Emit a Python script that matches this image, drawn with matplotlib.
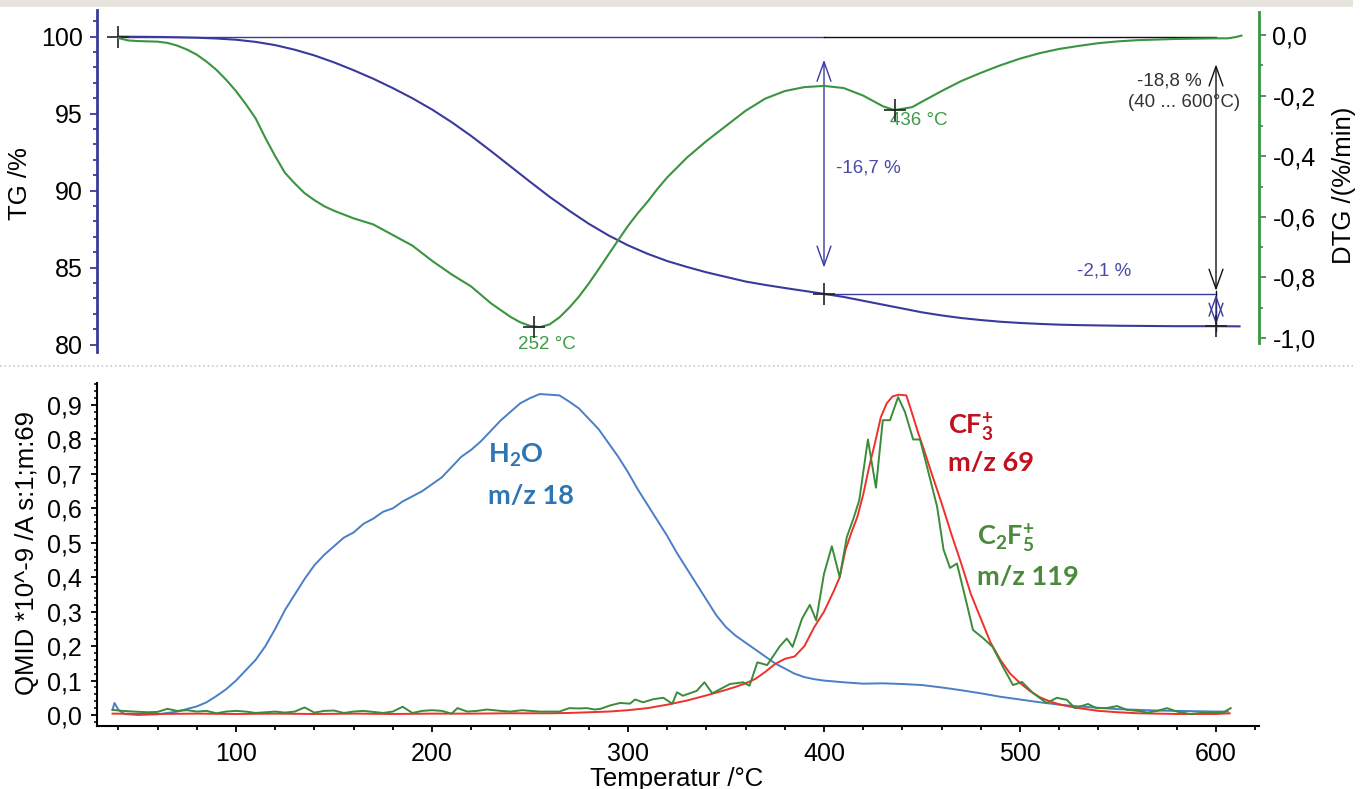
import numpy as np
import matplotlib
matplotlib.use("Agg")
import matplotlib.pyplot as plt
from matplotlib.ticker import MultipleLocator, FuncFormatter
from matplotlib.patches import Rectangle
from matplotlib.lines import Line2D

plt.rcParams['font.family'] = ['Liberation Sans', 'DejaVu Sans']
plt.rcParams['mathtext.fontset'] = 'custom'
plt.rcParams['mathtext.rm'] = 'Lato'
plt.rcParams['mathtext.bf'] = 'Lato:bold'
plt.rcParams['mathtext.it'] = 'Lato:italic'

# ---- TG / DTG (upper panel) ----
tg_temp = [40, 50, 60, 70, 80, 90, 100, 110, 120, 130, 140, 150, 160, 170, 180, 190,
           200, 210, 220, 230, 240, 250, 260, 270, 280, 290, 300, 310, 320, 330, 340,
           350, 360, 370, 380, 390, 400, 410, 420, 430, 440, 450, 460, 470, 480, 490,
           500, 510, 520, 530, 540, 550, 560, 570, 580, 590, 600, 612]
tg_val = [100.0, 99.99, 99.98, 99.96, 99.93, 99.88, 99.8, 99.66, 99.45, 99.15, 98.78,
          98.33, 97.82, 97.27, 96.66, 96.0, 95.27, 94.45, 93.55, 92.58, 91.58, 90.58, 89.6,
          88.7, 87.85, 87.1, 86.45, 85.9, 85.43, 85.05, 84.7, 84.4, 84.1, 83.88, 83.68,
          83.49, 83.3, 83.1, 82.85, 82.6, 82.35, 82.1, 81.9, 81.73, 81.6, 81.49, 81.41,
          81.35, 81.3, 81.27, 81.25, 81.23, 81.22, 81.21, 81.2, 81.2, 81.2, 81.19]

dtg_temp = [40, 45, 50, 60, 65, 70, 75, 80, 85, 90, 95, 100, 105, 110, 115, 120, 125,
            130, 135, 140, 145, 150, 160, 170, 180, 190, 200, 210, 220, 230, 240, 245,
            250, 255, 260, 265, 270, 275, 280, 285, 290, 295, 300, 305, 310, 315, 320,
            330, 340, 350, 360, 370, 380, 390, 400, 410, 420, 430, 436, 445, 450, 460,
            470, 480, 490, 500, 510, 520, 530, 540, 550, 560, 570, 580, 590, 600, 606,
            610, 613]
dtg_val = [-0.01, -0.018, -0.02, -0.022, -0.026, -0.035, -0.048, -0.065, -0.088, -0.115,
           -0.148, -0.185, -0.228, -0.275, -0.34, -0.40, -0.455, -0.49, -0.522, -0.545,
           -0.565, -0.58, -0.605, -0.625, -0.66, -0.695, -0.745, -0.79, -0.83, -0.885,
           -0.93, -0.948, -0.96, -0.964, -0.955, -0.932, -0.90, -0.863, -0.82, -0.773,
           -0.725, -0.677, -0.63, -0.588, -0.55, -0.508, -0.47, -0.405, -0.35, -0.30,
           -0.25, -0.21, -0.185, -0.172, -0.168, -0.175, -0.20, -0.235, -0.248, -0.238,
           -0.22, -0.185, -0.152, -0.125, -0.10, -0.078, -0.06, -0.046, -0.036, -0.027,
           -0.021, -0.017, -0.015, -0.013, -0.012, -0.011, -0.011, -0.007, -0.002]

step_temp = [40, 400, 600]
step_tg = [100.0, 83.3, 81.2]
peak_temp = [252, 436]
peak_dtg = [-0.963, -0.248]

# ---- QMID ion currents (lower panel) ----
h2o_temp = [37, 38, 40, 43, 50, 60, 70, 80, 85, 90, 95, 100, 105, 110, 115, 120, 125,
            130, 135, 140, 145, 150, 155, 160, 165, 170, 175, 180, 185, 190, 195, 200,
            205, 210, 215, 220, 225, 230, 235, 240, 245, 250, 255, 260, 265, 270, 275,
            280, 285, 290, 295, 300, 305, 310, 315, 320, 325, 330, 335, 340, 345, 350,
            355, 360, 365, 370, 375, 380, 385, 390, 395, 400, 410, 420, 430, 440, 450,
            460, 470, 480, 490, 500, 510, 520, 530, 540, 550, 560, 570, 580, 590, 600, 606]
h2o_val = [0.015, 0.035, 0.015, 0.003, 0.0, 0.002, 0.01, 0.025, 0.037, 0.055, 0.075,
           0.10, 0.13, 0.16, 0.20, 0.25, 0.305, 0.35, 0.395, 0.435, 0.465, 0.49, 0.515,
           0.53, 0.555, 0.57, 0.59, 0.60, 0.62, 0.635, 0.65, 0.67, 0.69, 0.72, 0.75,
           0.77, 0.795, 0.825, 0.855, 0.88, 0.905, 0.92, 0.932, 0.93, 0.928, 0.91, 0.89,
           0.86, 0.83, 0.79, 0.75, 0.705, 0.655, 0.61, 0.565, 0.52, 0.47, 0.425, 0.38,
           0.335, 0.29, 0.255, 0.23, 0.21, 0.19, 0.17, 0.15, 0.135, 0.12, 0.11, 0.104,
           0.10, 0.095, 0.091, 0.092, 0.09, 0.087, 0.08, 0.072, 0.063, 0.053, 0.045,
           0.037, 0.03, 0.025, 0.021, 0.017, 0.015, 0.013, 0.012, 0.011, 0.01, 0.01]

cf3_temp = [37, 60, 80, 100, 120, 140, 160, 180, 200, 220, 240, 260, 270, 280, 290,
            300, 310, 320, 330, 340, 345, 350, 355, 360, 365, 370, 375, 380, 385, 390,
            395, 400, 405, 408, 411, 414, 417, 420, 423, 426, 429, 432, 435, 438, 442,
            445, 448, 451, 455, 460, 465, 470, 475, 480, 485, 490, 495, 500, 505, 510,
            515, 520, 525, 530, 540, 550, 560, 570, 580, 590, 600, 607]
cf3_val = [0.004, 0.003, 0.004, 0.003, 0.004, 0.003, 0.004, 0.003, 0.004, 0.004, 0.005,
           0.005, 0.006, 0.008, 0.01, 0.014, 0.02, 0.03, 0.042, 0.057, 0.065, 0.073,
           0.082, 0.092, 0.105, 0.125, 0.148, 0.163, 0.17, 0.20, 0.255, 0.30, 0.36,
           0.40, 0.48, 0.53, 0.575, 0.64, 0.72, 0.79, 0.865, 0.905, 0.925, 0.93, 0.928,
           0.875, 0.82, 0.77, 0.70, 0.615, 0.525, 0.44, 0.35, 0.28, 0.21, 0.16, 0.12,
           0.093, 0.07, 0.052, 0.04, 0.031, 0.025, 0.02, 0.012, 0.008, 0.005, 0.004,
           0.003, 0.003, 0.003, 0.005]

c2f5_temp = [37, 42, 48, 55, 60, 65, 70, 75, 80, 85, 90, 95, 100, 105, 110, 115, 120,
             125, 130, 135, 140, 145, 150, 155, 160, 165, 170, 175, 180, 185, 190, 195,
             200, 205, 210, 213, 218, 223, 228, 235, 240, 246, 250, 255, 260, 265, 270,
             275, 279, 283, 286, 291, 296, 301, 303.6, 307.7, 313, 318, 322.6, 325, 328,
             335, 339, 343, 348, 352, 358.8, 362, 366, 371, 377.5, 381, 384, 388.8,
             392.8, 396, 400, 404, 408, 411.6, 415, 418, 422.4, 426.5, 430, 433.7,
             437.8, 441.3, 445.5, 449, 452.6, 457.7, 461, 464.3, 467.8, 472, 476, 481,
             486, 491.3, 496.4, 501, 506.6, 513.6, 518.8, 523.9, 528, 534.7, 539, 544,
             549.5, 554.6, 560, 565, 570, 575, 580, 586.7, 592, 598.5, 604, 607.5]
c2f5_val = [0.015, 0.012, 0.01, 0.008, 0.009, 0.018, 0.012, 0.014, 0.01, 0.012, 0.005,
            0.01, 0.012, 0.01, 0.006, 0.008, 0.01, 0.007, 0.01, 0.022, 0.007, 0.012,
            0.013, 0.006, 0.01, 0.012, 0.009, 0.006, 0.01, 0.024, 0.006, 0.012, 0.014,
            0.012, 0.004, 0.02, 0.01, 0.012, 0.016, 0.012, 0.01, 0.014, 0.012, 0.01,
            0.01, 0.01, 0.02, 0.019, 0.02, 0.016, 0.018, 0.028, 0.035, 0.033, 0.045,
            0.037, 0.046, 0.05, 0.033, 0.066, 0.056, 0.07, 0.095, 0.063, 0.078, 0.09,
            0.095, 0.085, 0.153, 0.145, 0.20, 0.222, 0.198, 0.28, 0.32, 0.275, 0.41,
            0.49, 0.40, 0.516, 0.57, 0.624, 0.80, 0.66, 0.856, 0.856, 0.923, 0.88, 0.80,
            0.80, 0.72, 0.605, 0.48, 0.427, 0.44, 0.343, 0.247, 0.224, 0.198, 0.14,
            0.087, 0.096, 0.064, 0.035, 0.05, 0.044, 0.02, 0.032, 0.02, 0.02, 0.026,
            0.015, 0.012, 0.007, 0.012, 0.02, 0.01, 0.003, 0.006, 0.007, 0.008, 0.02]

# colours
c_tg = '#3a3a9e'
c_dtg = '#3a9440'
c_tg_txt = '#4a4aa8'
c_dtg_txt = '#3d9a46'
c_h2o = '#4a7fc6'
c_cf3 = '#f0302a'
c_c2f5 = '#3a8c3a'

W, H = 1365, 789
def box(x0, y0, x1, y1):
    return [x0 / W, 1 - y1 / H, (x1 - x0) / W, (y1 - y0) / H]

def comma(v, pos):
    if abs(v) < 1e-9:
        v = 0.0
    return f"{v:.1f}".replace('.', ',')

fig = plt.figure(figsize=(W / 100, H / 100), dpi=100)
fig.add_artist(Rectangle((0, 1 - 7 / H), 1353 / W, 7 / H, transform=fig.transFigure,
                         facecolor='#e7e3dd', edgecolor='none'))
fig.add_artist(Line2D([0, 1353 / W], [1 - 366 / H] * 2, transform=fig.transFigure,
                      color='#c8c8c8', lw=1.2, ls=':'))

xlim = (28.83, 621.68)

# ---------------- upper panel ----------------
ax = fig.add_axes(box(96.5, 10, 1258.5, 355))
ax2 = ax.twinx()
ax.set_xlim(*xlim)
ax.set_ylim(79.33, 101.73)
ax2.set_ylim(-1.056, 0.0825)
for a in (ax, ax2):
    a.set_facecolor('none')
    for s in ('top', 'bottom'):
        a.spines[s].set_visible(False)
    a.set_xticks([])
ax.spines['right'].set_visible(False)
ax2.spines['left'].set_visible(False)
ax.spines['left'].set_color(c_tg)
ax.spines['left'].set_linewidth(2)
ax.spines['left'].set_bounds(79.5, 101.73)
ax2.spines['right'].set_color(c_dtg)
ax2.spines['right'].set_linewidth(2)
ax2.spines['right'].set_bounds(-1.017, 0.076)

ax.yaxis.set_major_locator(MultipleLocator(5))
ax.yaxis.set_minor_locator(MultipleLocator(1))
ax.tick_params(axis='y', which='major', length=5, width=1.3, color=c_tg,
               labelsize=18, pad=5)
ax.tick_params(axis='y', which='minor', length=3, width=1.3, color=c_tg)
ax2.yaxis.set_major_locator(MultipleLocator(0.2))
ax2.yaxis.set_minor_locator(MultipleLocator(0.1))
ax2.yaxis.set_major_formatter(FuncFormatter(comma))
ax2.tick_params(axis='y', which='major', length=5, width=1.3, color=c_dtg,
                labelsize=18, pad=5)
ax2.tick_params(axis='y', which='minor', length=3, width=1.3, color=c_dtg)

ax2.plot(dtg_temp, dtg_val, color=c_dtg, lw=1.5, zorder=3)
ax.plot(tg_temp, tg_val, color=c_tg, lw=1.5, zorder=3)

# step evaluation lines
ax.plot(step_temp[:2], [step_tg[0]] * 2, color=c_tg, lw=1.0)
ax.plot(step_temp[1:], [step_tg[0]] * 2, color='#111111', lw=1.0)
ax.plot(step_temp[1:], [step_tg[1]] * 2, color=c_tg, lw=1.0)
ax.plot(step_temp, step_tg, ls='none', marker='+', ms=16, mew=1.2, color='#222222', zorder=5)
ax2.plot(peak_temp, peak_dtg, ls='none', marker='+', ms=16, mew=1.2, color='#222222', zorder=5)

arr = dict(arrowstyle='<->,head_length=0.7,head_width=0.25', shrinkA=0, shrinkB=0,
           mutation_scale=20, lw=1.0)
ax.annotate('', xy=(step_temp[1], 85.0), xytext=(step_temp[1], 98.5),
            arrowprops=dict(arr, color=c_tg))
ax.annotate('', xy=(step_temp[2], 83.5), xytext=(step_temp[2], 98.2),
            arrowprops=dict(arr, color='#111111'))
ax.plot([step_temp[2]] * 2, [83.5, 80.9], color='#111111', lw=1.0)
ax.annotate('', xy=(step_temp[2], 81.3), xytext=(step_temp[2], 83.25),
            arrowprops=dict(arr, color=c_tg))

ax.text(406, 91.5, '-16,7 %', color=c_tg_txt, fontsize=13.5, ha='left', va='center')
ax.text(543, 84.77, '-2,1 %', color=c_tg_txt, fontsize=13.5, ha='center', va='center')
ax.text(576, 97.14, '-18,8 %', color='#333333', fontsize=13.5, ha='center', va='center')
ax.text(583.7, 95.74, '(40 ... 600°C)', color='#333333', fontsize=13.5,
        ha='center', va='center')
ax2.text(258.7, -1.02, '252 °C', color=c_dtg_txt, fontsize=13.5, ha='center', va='center')
ax2.text(448.5, -0.282, '436 °C', color=c_dtg_txt, fontsize=13.5, ha='center', va='center')

# ---------------- lower panel ----------------
bx = fig.add_axes(box(96.5, 383, 1258.5, 726))
bx.set_xlim(*xlim)
bx.set_ylim(-0.0319, 0.964)
bx.spines['top'].set_visible(False)
bx.spines['right'].set_visible(False)
bx.spines['left'].set_linewidth(1.5)
bx.spines['bottom'].set_linewidth(1.5)
bx.xaxis.set_major_locator(MultipleLocator(100))
bx.xaxis.set_minor_locator(MultipleLocator(20))
bx.yaxis.set_major_locator(MultipleLocator(0.1))
bx.yaxis.set_minor_locator(MultipleLocator(0.02))
bx.yaxis.set_major_formatter(FuncFormatter(comma))
bx.tick_params(axis='x', which='major', length=4.5, width=1.3, labelsize=18, pad=7)
bx.tick_params(axis='x', which='minor', length=3, width=1.3)
bx.tick_params(axis='y', which='major', length=4.5, width=1.3, labelsize=18, pad=6)
bx.tick_params(axis='y', which='minor', length=2.5, width=1.1)

bx.plot(h2o_temp, h2o_val, color=c_h2o, lw=1.4)
bx.plot(cf3_temp, cf3_val, color=c_cf3, lw=1.4)
bx.plot(c2f5_temp, c2f5_val, color=c_c2f5, lw=1.4)

lab = dict(fontsize=19.5, fontweight='bold', family=['Lato', 'DejaVu Sans'],
           ha='left', va='center')
bx.text(228.6, 0.755, r'H$_\mathbf{2}$O', color='#2e75b6', **lab)
bx.text(228.6, 0.636, 'm/z 18', color='#2e75b6', **lab)
bx.text(463.3, 0.836, r'CF$_\mathbf{3}^\mathbf{+}$', color='#c0121e', **lab)
bx.text(463.3, 0.732, 'm/z 69', color='#c0121e', **lab)
bx.text(478.0, 0.514, r'C$_\mathbf{2}$F$_\mathbf{5}^\mathbf{+}$', color='#4a8a3a', **lab)
bx.text(478.0, 0.40, 'm/z 119', color='#4a8a3a', **lab)

# axis titles
fig.text(20 / W, 1 - 184 / H, 'TG /%', rotation=90, fontsize=18.5, ha='center', va='center')
fig.text(1344 / W, 1 - 185 / H, 'DTG /(%/min)', rotation=90, fontsize=18.5,
         ha='center', va='center')
fig.text(27 / W, 1 - 553 / H, 'QMID *10^-9 /A s:1;m:69', rotation=90, fontsize=18.5,
         ha='center', va='center')
fig.text(677 / W, 1 - 786 / H, 'Temperatur /°C', fontsize=18.5, ha='center', va='baseline')

fig.savefig('out.png', dpi=100)
